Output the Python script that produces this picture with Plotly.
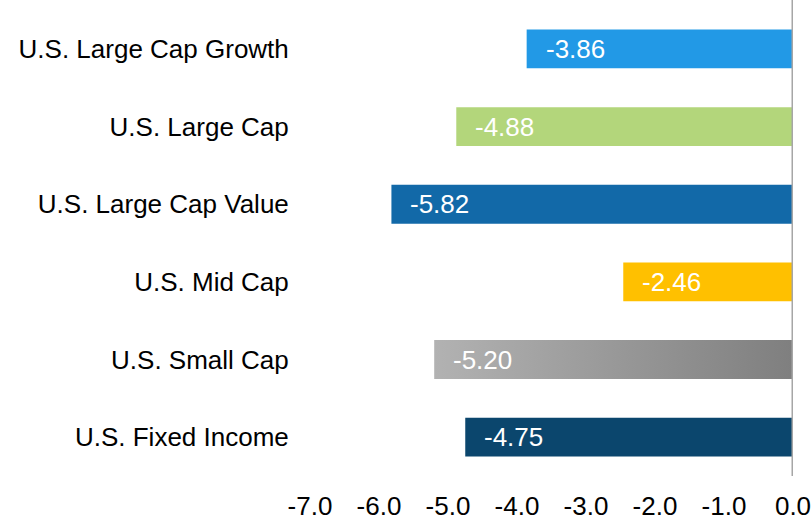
import plotly.graph_objects as go

categories = ["U.S. Large Cap Growth", "U.S. Large Cap", "U.S. Large Cap Value",
              "U.S. Mid Cap", "U.S. Small Cap", "U.S. Fixed Income"]
values = [-3.86, -4.88, -5.82, -2.46, -5.20, -4.75]
colors = ["#2299E6", "#B3D67B", "#1269A8", "#FFC000", None, "#0B466D"]
gradient = ["#B2B2B2", "#7F7F7F"]
tick_vals = [-7, -6, -5, -4, -3, -2, -1, 0]
tick_text = ["-7.0", "-6.0", "-5.0", "-4.0", "-3.0", "-2.0", "-1.0", "0.0"]

FONT = "Liberation Sans, Arial, sans-serif"
half = 0.25
idx = list(range(len(categories)))

fig = go.Figure()
fig.add_trace(go.Bar(
    y=idx, x=values, orientation="h", width=2 * half,
    marker=dict(color=[c if c else "rgba(0,0,0,0)" for c in colors], line=dict(width=0)),
    hoverinfo="skip", showlegend=False,
))

# gradient bar(s)
for i, (v, c) in enumerate(zip(values, colors)):
    if c is None:
        fig.add_trace(go.Scatter(
            x=[v, 0, 0, v, v], y=[i - half, i - half, i + half, i + half, i - half],
            mode="lines", fill="toself", line=dict(width=0),
            fillgradient=dict(type="horizontal",
                              colorscale=[[0, gradient[0]], [1, gradient[1]]]),
            hoverinfo="skip", showlegend=False,
        ))

for i, v in enumerate(values):
    fig.add_annotation(x=v, y=i, text=f"{v:.2f}", showarrow=False,
                       xanchor="left", xshift=17,
                       font=dict(family=FONT, size=26, color="white"))

fig.add_shape(type="line", x0=0, x1=0, xref="x", y0=0, y1=1, yref="paper",
              line=dict(color="#A6A6A6", width=3))

fig.update_layout(
    width=812, height=520,
    margin=dict(l=310, r=19, t=0, b=44),
    paper_bgcolor="white", plot_bgcolor="white",
    font=dict(family=FONT, size=26, color="black"),
    xaxis=dict(range=[-7, 0], tickvals=tick_vals, ticktext=tick_text,
               showgrid=False, zeroline=False, showline=False,
               ticks="outside", ticklen=7, tickcolor="rgba(0,0,0,0)",
               tickfont=dict(size=26), automargin=False),
    yaxis=dict(range=[5.5, -0.63], tickvals=idx, ticktext=categories,
               showgrid=False, zeroline=False, showline=False,
               ticks="outside", ticklen=15, tickcolor="rgba(0,0,0,0)",
               tickfont=dict(size=26), automargin=False),
)

fig.write_html("out.html", config={"displayModeBar": False},
               post_script="document.body.style.margin='0';document.body.style.overflow='hidden';")
